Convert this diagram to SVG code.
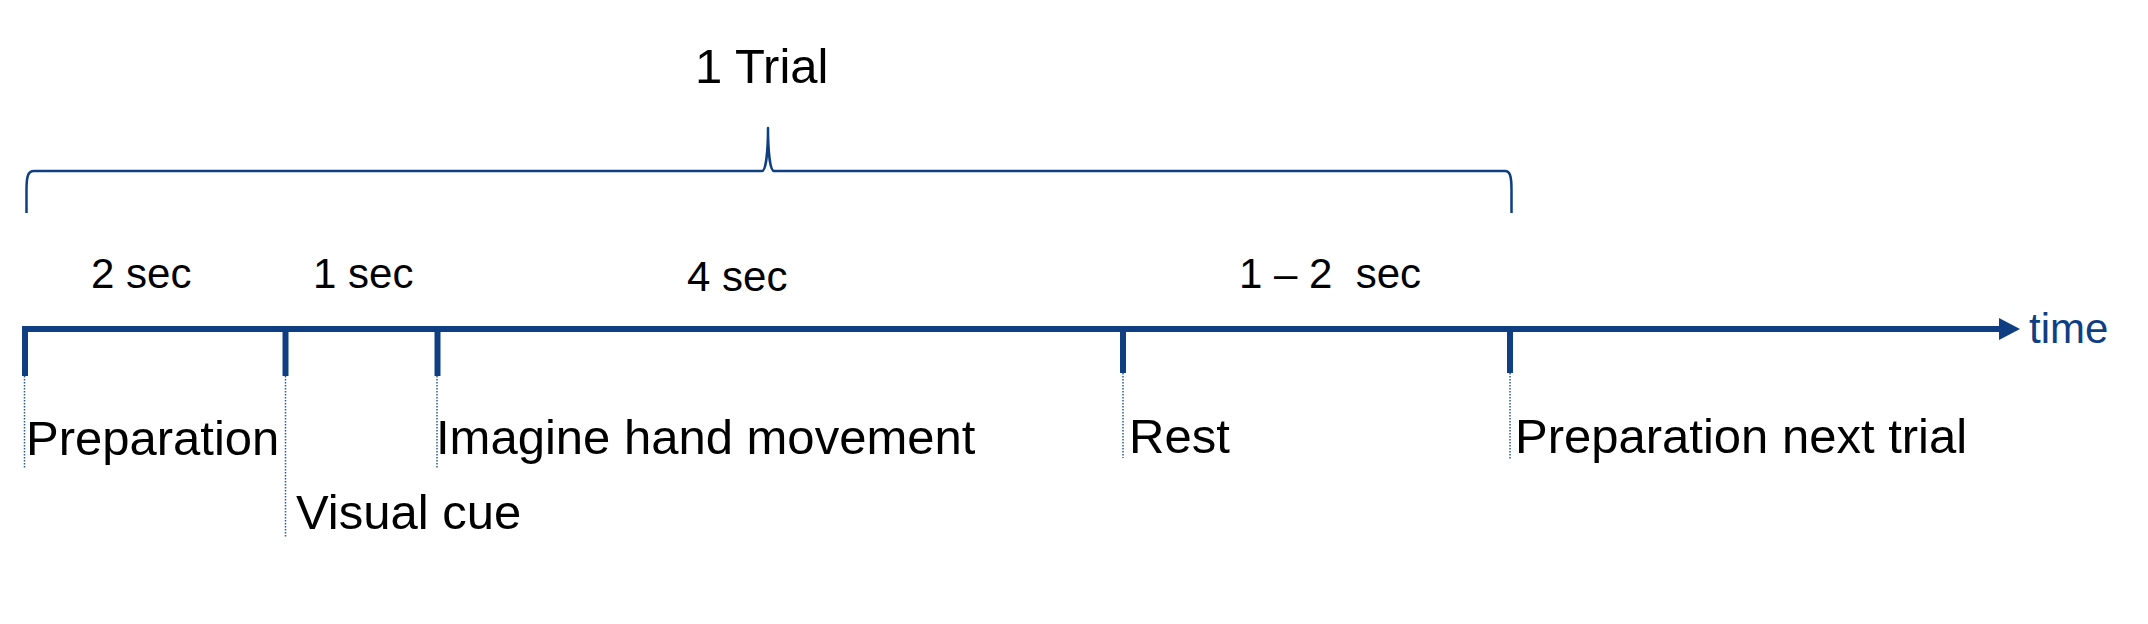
<svg xmlns="http://www.w3.org/2000/svg" width="2148" height="624" viewBox="0 0 2148 624">
  <style>
    .lbl { font-family: "Liberation Sans", Arial, sans-serif; font-size: 49px; fill: #000; }
    .dur { font-family: "Liberation Sans", Arial, sans-serif; font-size: 42px; fill: #000; }
    .time { font-family: "Liberation Sans", Arial, sans-serif; font-size: 42px; fill: #0f3f82; }
    .axis { stroke: #0f3f82; stroke-width: 6; fill: none; }
    .tick { stroke: #0f3f82; stroke-width: 6; fill: none; }
    .dot { stroke: #2a5a9a; stroke-width: 1.5; stroke-dasharray: 1.5 1.5; fill: none; }
    .brace { stroke: #0f3f82; stroke-width: 2.5; fill: none; stroke-linejoin: round; }
  </style>
  <rect width="2148" height="624" fill="#ffffff"/>

  <g id="connectors">
    <path id="brace" class="brace" d="M26.5,213 L26.5,190 C26.5,176 28,171 34,171 L762,171 C766,171 768,150 768,128 C768,150 770,171 774,171 L1505,171 C1510,171 1511.5,176 1511.5,190 L1511.5,213"/>
    <line id="axis" class="axis" x1="22" y1="329" x2="2001" y2="329"/>
    <polygon id="arrowhead" points="1999,318 2020,329 1999,340" fill="#0f3f82"/>
    <g id="ticks">
      <line class="tick" x1="25" y1="326" x2="25" y2="376"/>
      <line class="tick" x1="285.5" y1="326" x2="285.5" y2="376"/>
      <line class="tick" x1="437.5" y1="326" x2="437.5" y2="376"/>
      <line class="tick" x1="1123" y1="326" x2="1123" y2="373"/>
      <line class="tick" x1="1510" y1="326" x2="1510" y2="373"/>
    </g>
    <g id="dotted">
      <line class="dot" x1="24.5" y1="376" x2="24.5" y2="469"/>
      <line class="dot" x1="285.5" y1="376" x2="285.5" y2="538"/>
      <line class="dot" x1="437" y1="376" x2="437" y2="469"/>
      <line class="dot" x1="1123" y1="373" x2="1123" y2="458"/>
      <line class="dot" x1="1510" y1="373" x2="1510" y2="460"/>
    </g>
  </g>

  <g id="trial-label"><text class="lbl" x="695" y="83">1 Trial</text></g>
  <g id="time-label"><text class="time" x="2029" y="343">time</text></g>

  <g id="dur-prep"><text class="dur" x="91" y="288">2 sec</text></g>
  <g id="dur-cue"><text class="dur" x="313" y="288">1 sec</text></g>
  <g id="dur-imagine"><text class="dur" x="687" y="291">4 sec</text></g>
  <g id="dur-rest"><text class="dur" x="1239" y="288" xml:space="preserve" style="white-space:pre">1 – 2  sec</text></g>

  <g id="phase-preparation"><text class="lbl" x="26" y="455">Preparation</text></g>
  <g id="phase-visual-cue"><text class="lbl" x="296" y="529">Visual cue</text></g>
  <g id="phase-imagine"><text class="lbl" x="436" y="454">Imagine hand movement</text></g>
  <g id="phase-rest"><text class="lbl" x="1129" y="453">Rest</text></g>
  <g id="phase-next"><text class="lbl" x="1515" y="453">Preparation next trial</text></g>
</svg>
